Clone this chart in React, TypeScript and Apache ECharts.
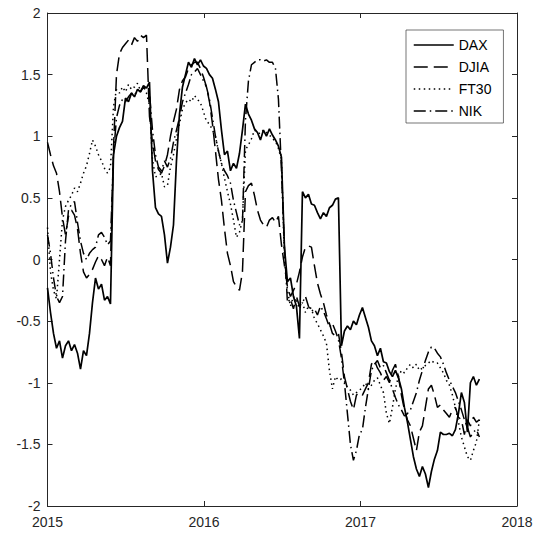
import React, { useEffect, useRef } from "react";
import * as echarts from "echarts";

// Weekly index scores, starting with the first week of 2015.
const START_YEAR = 2015;
const WEEK_IN_YEARS = 7 / 365.25;

const seriesNames = ["DAX", "DJIA", "FT30", "NIK"];

const dax = [
  -0.23, -0.43, -0.6, -0.72, -0.66, -0.8, -0.7, -0.66, -0.74, -0.69,
  -0.76, -0.89, -0.74, -0.78, -0.6, -0.35, -0.15, -0.24, -0.2, -0.33,
  -0.3, -0.36, 0.85, 1.0, 1.07, 1.12, 1.31, 1.28, 1.35, 1.32,
  1.38, 1.36, 1.41, 1.39, 1.44, 0.72, 0.42, 0.37, 0.35, 0.2,
  -0.03, 0.1, 0.28, 0.8, 1.18, 1.4, 1.5, 1.6, 1.56, 1.63,
  1.58, 1.62, 1.57, 1.55, 1.5, 1.47, 1.38, 1.28, 1.05, 0.85,
  0.88, 0.72, 0.78, 0.74, 0.86, 1.05, 1.26, 1.18, 1.13, 1.06,
  1.03, 0.97, 1.05, 1.0, 1.06, 1.01, 0.97, 0.92, 0.83, 0.1,
  -0.18, -0.15, -0.3, -0.38, -0.64, 0.55, 0.5, 0.53, 0.45, 0.44,
  0.38, 0.33, 0.38, 0.35, 0.42, 0.44, 0.49, 0.5, -0.7, -0.58,
  -0.54, -0.57, -0.5, -0.53, -0.45, -0.39, -0.47, -0.55, -0.66, -0.7,
  -0.78, -0.72, -0.83, -0.84, -0.91, -0.95, -0.9, -0.96, -1.05, -1.2,
  -1.32, -1.46, -1.6, -1.7, -1.76, -1.68, -1.74, -1.85, -1.72, -1.62,
  -1.55, -1.4, -1.42, -1.42, -1.41, -1.43, -1.38, -1.25, -1.08, -1.16,
  -1.4, -1.0, -0.95, -1.02, -0.97,
];

const djia = [
  0.95, 0.85, 0.76, 0.7, 0.55, 0.34, 0.2, 0.35, 0.4, 0.36,
  0.25, 0.05, -0.1, -0.15, -0.12, -0.08, -0.02, 0.03, 0.0, -0.05,
  0.02, -0.05, 0.9, 1.5, 1.67, 1.72, 1.75, 1.78, 1.74, 1.8,
  1.77, 1.82, 1.8, 1.82, 1.16, 0.95, 0.8, 0.73, 0.7, 0.76,
  0.85, 1.0, 1.12, 1.22, 1.38, 1.45, 1.48, 1.55, 1.58, 1.6,
  1.6, 1.55, 1.48, 1.4, 1.28, 1.1, 0.88, 0.65, 0.48, 0.25,
  0.05, -0.05, -0.18, -0.22, -0.25, -0.1, 0.55, 0.6, 0.62, 0.52,
  0.4, 0.32, 0.28, 0.26, 0.32, 0.34, 0.3, 0.35, 0.12, -0.05,
  -0.22, -0.3, -0.25, -0.2, -0.1, 0.02, 0.1, 0.11, 0.1, -0.05,
  -0.19, -0.28, -0.35, -0.45, -0.52, -0.6, -0.62, -0.6, -0.75, -0.95,
  -1.05, -1.15, -1.22, -1.1, -1.08, -1.1, -1.05, -1.0, -0.85, -0.82,
  -0.88, -0.92, -0.98, -0.95, -1.0, -0.9, -0.85, -0.95, -1.1, -1.22,
  -1.3, -1.35, -1.45, -1.55, -1.4, -1.35, -1.2, -1.05, -1.02, -1.1,
  -1.2, -1.18, -1.22, -1.25, -1.28, -1.22, -1.2, -1.28, -1.3, -1.42,
  -1.3, -1.35, -1.28, -1.32, -1.3,
];

const ft30 = [
  0.26, -0.1, -0.25, -0.32, 0.0, 0.32, 0.43, 0.48, 0.52, 0.58,
  0.55, 0.62, 0.7, 0.76, 0.86, 0.97, 0.92, 0.85, 0.8, 0.74,
  0.7, 0.75, 1.24, 1.38, 1.35, 1.4, 1.36, 1.42, 1.38, 1.4,
  1.43, 1.37, 1.4, 1.35, 1.25, 0.81, 0.67, 0.68, 0.7, 0.59,
  0.6, 0.75, 0.85, 0.98, 1.1, 1.22, 1.27, 1.3, 1.28, 1.33,
  1.3, 1.27, 1.2, 1.12, 1.1, 1.05, 1.0, 0.88, 0.78, 0.66,
  0.55, 0.45, 0.32, 0.18, 0.22, 0.32, 0.89, 0.93, 0.98, 1.05,
  1.03, 1.02, 1.05, 1.03, 1.01, 0.98, 0.96, 0.9, 0.81, 0.0,
  -0.25, -0.38, -0.3, -0.33, -0.4, -0.35, -0.43, -0.38, -0.4, -0.48,
  -0.52, -0.57, -0.62, -0.68, -0.9, -1.05, -0.95, -0.98, -0.97, -0.99,
  -1.04, -1.06, -1.1, -1.08, -1.06, -1.04, -1.0, -1.05, -1.02, -0.98,
  -0.96, -1.02, -1.08, -1.25, -1.33, -1.2, -1.05, -0.95, -0.9, -0.92,
  -0.88, -0.85, -0.88, -0.85, -0.9, -0.88, -0.86, -0.84, -0.82, -0.84,
  -0.84, -0.88, -0.92, -0.98, -1.02, -1.1, -1.2, -1.32, -1.44, -1.52,
  -1.6, -1.63, -1.55, -1.48, -1.3,
];

const nik = [
  0.2, 0.05, -0.15, -0.3, -0.35, -0.3, 0.15, 0.4, 0.45, 0.47,
  0.3, 0.15, 0.05, 0.0, 0.05, 0.08, 0.1, 0.2, 0.22, 0.18,
  0.12, 0.15, 0.85, 1.15, 1.25, 1.3, 1.28, 1.32, 1.35, 1.33,
  1.38, 1.36, 1.4, 1.38, 1.35, 1.05, 0.85, 0.75, 0.72, 0.8,
  0.75, 0.82, 0.95, 1.05, 1.15, 1.28, 1.35, 1.42, 1.5, 1.52,
  1.55, 1.5, 1.45, 1.4, 1.3, 1.15, 1.0, 0.88, 0.78, 0.72,
  0.68, 0.62, 0.48, 0.38, 0.28, 0.3, 1.13, 1.45, 1.58, 1.6,
  1.62, 1.62, 1.61, 1.62, 1.6, 1.6, 1.55, 1.3, 0.73, 0.1,
  -0.35, -0.32, -0.4, -0.3, -0.38, -0.35, -0.3, -0.38, -0.42, -0.4,
  -0.45, -0.38, -0.42, -0.48, -0.55, -0.52, -0.58, -0.65, -0.8, -1.0,
  -1.25, -1.5, -1.63, -1.55, -1.42, -1.38, -1.2, -1.05, -0.9, -0.85,
  -0.82, -0.88, -0.86, -0.92, -0.98, -1.05, -1.12, -1.18, -1.22, -1.27,
  -1.25, -1.22, -1.15, -1.08, -0.98, -0.9, -0.82, -0.75, -0.71, -0.72,
  -0.76, -0.79, -0.85, -0.92, -0.98, -1.03, -1.08, -1.15, -1.22, -1.3,
  -1.36, -1.44, -1.4, -1.38, -1.44,
];

const seriesValues = [dax, djia, ft30, nik];

// Line patterns: solid, dashed, dotted, dash-dot
const lineTypes: (string | number[])[] = ["solid", [14, 6], [1.5, 3.5], [12, 4, 1.5, 4]];
const lineWidths = [1.7, 1.5, 1.5, 1.5];

const FONT = "'Liberation Sans', Arial, Helvetica, sans-serif";
const AXIS_COLOR = "#262626";

export default function App() {
  const ref = useRef<HTMLDivElement>(null);

  useEffect(() => {
    if (!ref.current) return;
    const chart = echarts.init(ref.current, undefined, { renderer: "svg" });

    const years = dax.map((_, i) => START_YEAR + i * WEEK_IN_YEARS);

    const axisLine = { show: true, onZero: false, lineStyle: { color: AXIS_COLOR, width: 1 } };
    const axisTick = { show: true, inside: true, length: 5, lineStyle: { color: AXIS_COLOR, width: 1 } };
    const labelStyle = { color: AXIS_COLOR, fontSize: 14, fontFamily: FONT };

    const xBase = { type: "value" as const, min: 2015, max: 2018, interval: 1, splitLine: { show: false }, axisLine, axisTick };
    const yBase = { type: "value" as const, min: -2, max: 2, interval: 0.5, splitLine: { show: false }, axisLine, axisTick };

    chart.setOption({
      animation: false,
      backgroundColor: "#ffffff",
      grid: { left: 47.5, right: 22, top: 13, bottom: 32, containLabel: false },
      xAxis: [
        { ...xBase, position: "bottom", axisLabel: { ...labelStyle, margin: 9, formatter: (v: number) => String(v) } },
        { ...xBase, position: "top", axisLabel: { show: false } },
      ],
      yAxis: [
        { ...yBase, position: "left", axisLabel: { ...labelStyle, margin: 7, formatter: (v: number) => String(v) } },
        { ...yBase, position: "right", axisLabel: { show: false } },
      ],
      legend: {
        orient: "vertical",
        left: 406,
        top: 30,
        itemWidth: 40,
        itemHeight: 14,
        itemGap: 8,
        padding: [8, 12, 5, 7],
        backgroundColor: "#ffffff",
        borderColor: "#3a3a3a",
        borderWidth: 0.7,
        borderRadius: 0,
        selectedMode: false,
        itemStyle: { opacity: 0, borderWidth: 0 },
        lineStyle: { width: 1.5 },
        textStyle: { fontSize: 14, color: "#000", fontFamily: FONT },
        data: seriesNames,
      },
      series: seriesNames.map((name, k) => ({
        name,
        type: "line",
        xAxisIndex: 0,
        yAxisIndex: 0,
        symbol: "none",
        data: seriesValues[k].map((v, i) => [years[i], v]),
        lineStyle: { color: "#000", width: lineWidths[k], type: lineTypes[k], cap: "butt" },
        itemStyle: { color: "#000" },
      })),
    });

    return () => chart.dispose();
  }, []);

  return (
    <div
      ref={ref}
      style={{ position: "fixed", left: 0, top: 0, width: 539, height: 538, background: "#fff" }}
    />
  );
}
